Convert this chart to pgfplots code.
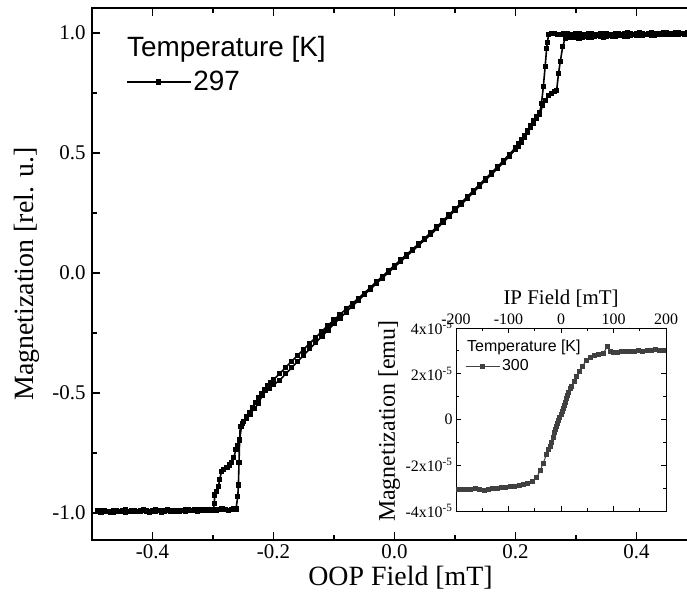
\documentclass[border=0pt]{standalone}
\usepackage{fontspec}
\setmainfont{Liberation Serif}
\setsansfont{Liberation Sans}
\usepackage{pgfplots}
\pgfplotsset{compat=1.18}
\usetikzlibrary{calc}
\definecolor{insetgray}{HTML}{404040}
\begin{document}
\begin{tikzpicture}
\begin{axis}[
  name=main,
  width=605bp, height=532bp, scale only axis,
  xmin=-0.5, xmax=0.5, ymin=-1.1125, ymax=1.104,
  xtick={-0.4,-0.2,0,0.2,0.4}, ytick={-1,-0.5,0,0.5,1},
  minor x tick num=1, minor y tick num=1,
  tick align=inside, major tick length=8bp, minor tick length=5bp,
  xticklabel pos=lower, yticklabel pos=left,
  /pgf/number format/fixed, /pgf/number format/fixed zerofill,
  /pgf/number format/precision=1, /pgf/number format/assume math mode=true,
  tick label style={font=\fontsize{21}{21}\selectfont},
  xticklabel style={yshift=-1bp}, yticklabel style={xshift=-3bp},
  axis line style={line width=1.6bp},
  every tick/.style={black, line width=1.4bp},
  xlabel={OOP Field [mT]}, ylabel={Magnetization [rel. u.]},
  label style={font=\fontsize{28}{28}\selectfont},
  xlabel style={at={(axis description cs:0.51,-0.07)}, anchor=center},
  ylabel style={at={(axis description cs:-0.108,0.5)}, anchor=center},
  legend style={at={(rel axis cs:0.056,0.861)}, anchor=west, draw=none, fill=none,
    inner sep=0pt, outer sep=0pt, font=\sffamily\fontsize{28}{28}\selectfont,
    /tikz/every even column/.style={column sep=5bp}},
  legend image code/.code={\draw[mark repeat=2,mark phase=2,#1] plot coordinates {(0bp,0bp) (32bp,0bp) (64bp,0bp)};},
]
\addplot[black, line width=1.6bp, mark=square*, mark size=1.8bp, mark options={solid}] table {
x y
-0.490 -0.992
-0.485 -0.988
-0.480 -0.990
-0.475 -0.994
-0.470 -0.993
-0.465 -0.988
-0.460 -0.989
-0.455 -0.993
-0.450 -0.991
-0.445 -0.987
-0.440 -0.993
-0.435 -0.990
-0.430 -0.990
-0.425 -0.994
-0.420 -0.992
-0.415 -0.987
-0.410 -0.989
-0.405 -0.993
-0.400 -0.991
-0.395 -0.986
-0.390 -0.988
-0.385 -0.992
-0.380 -0.990
-0.375 -0.987
-0.370 -0.992
-0.365 -0.989
-0.360 -0.988
-0.355 -0.992
-0.350 -0.990
-0.345 -0.985
-0.340 -0.987
-0.335 -0.991
-0.330 -0.989
-0.325 -0.985
-0.320 -0.986
-0.315 -0.990
-0.310 -0.988
-0.305 -0.984
-0.300 -0.985
-0.295 -0.989
-0.290 -0.987
-0.285 -0.983
-0.280 -0.984
-0.275 -0.988
-0.270 -0.986
-0.266 -0.982
-0.262 -0.983
-0.259 -0.930
-0.258 -0.883
-0.257 -0.790
-0.256 -0.696
-0.255 -0.640
-0.251 -0.626
-0.245 -0.605
-0.239 -0.590
-0.232 -0.565
-0.225 -0.545
-0.219 -0.512
-0.213 -0.490
-0.207 -0.480
-0.200 -0.466
-0.190 -0.448
-0.180 -0.420
-0.170 -0.395
-0.160 -0.368
-0.150 -0.342
-0.140 -0.316
-0.130 -0.290
-0.120 -0.264
-0.110 -0.238
-0.100 -0.212
-0.090 -0.188
-0.080 -0.163
-0.070 -0.139
-0.060 -0.115
-0.050 -0.091
-0.040 -0.068
-0.030 -0.044
-0.020 -0.021
-0.010 0.002
0.000 0.025
0.010 0.047
0.020 0.070
0.030 0.092
0.040 0.115
0.050 0.138
0.060 0.160
0.070 0.185
0.080 0.210
0.090 0.235
0.100 0.260
0.110 0.285
0.120 0.310
0.130 0.335
0.140 0.360
0.150 0.385
0.160 0.410
0.170 0.435
0.180 0.460
0.190 0.487
0.200 0.515
0.205 0.528
0.210 0.545
0.215 0.565
0.220 0.585
0.225 0.605
0.230 0.625
0.235 0.642
0.240 0.660
0.245 0.700
0.249 0.720
0.255 0.740
0.260 0.749
0.265 0.756
0.268 0.760
0.271 0.830
0.274 0.880
0.278 0.943
0.282 0.978
0.286 0.983
0.290 0.980
0.295 0.985
0.300 0.982
0.305 0.978
0.310 0.980
0.315 0.986
0.320 0.983
0.325 0.981
0.330 0.985
0.335 0.988
0.340 0.984
0.345 0.983
0.350 0.986
0.355 0.989
0.360 0.985
0.365 0.984
0.370 0.988
0.375 0.990
0.380 0.987
0.385 0.986
0.390 0.989
0.395 0.992
0.400 0.990
0.405 0.988
0.410 0.989
0.415 0.993
0.420 0.992
0.425 0.990
0.430 0.991
0.435 0.995
0.440 0.993
0.445 0.992
0.450 0.994
0.455 0.997
0.460 0.993
0.465 0.994
0.470 0.995
0.475 0.998
0.480 0.996
0.485 0.994
0.490 0.995
0.490 1.000
0.485 1.003
0.480 0.999
0.475 0.997
0.470 1.001
0.465 1.003
0.460 0.998
0.455 0.996
0.450 1.000
0.445 1.002
0.440 0.998
0.435 0.996
0.430 0.999
0.425 1.001
0.420 0.997
0.415 0.995
0.410 0.999
0.405 1.001
0.400 0.998
0.395 0.994
0.390 0.996
0.385 1.000
0.380 0.998
0.375 0.994
0.370 0.997
0.365 0.999
0.360 0.995
0.355 0.993
0.350 0.997
0.345 0.999
0.340 0.996
0.335 0.993
0.330 0.994
0.325 0.998
0.320 0.996
0.315 0.993
0.310 0.995
0.305 0.998
0.300 0.996
0.295 0.993
0.290 0.994
0.285 0.998
0.280 0.996
0.275 0.993
0.270 0.995
0.265 0.998
0.260 0.997
0.255 0.995
0.2525 0.960
0.2515 0.936
0.249 0.860
0.246 0.776
0.243 0.707
0.240 0.668
0.235 0.650
0.230 0.633
0.225 0.614
0.220 0.594
0.215 0.574
0.210 0.554
0.205 0.537
0.200 0.522
0.190 0.495
0.180 0.468
0.170 0.442
0.160 0.417
0.150 0.392
0.140 0.367
0.130 0.342
0.120 0.317
0.110 0.292
0.100 0.267
0.090 0.242
0.080 0.217
0.070 0.192
0.060 0.168
0.050 0.145
0.040 0.122
0.030 0.099
0.020 0.077
0.010 0.054
0.000 0.032
-0.010 0.009
-0.020 -0.014
-0.030 -0.037
-0.040 -0.061
-0.050 -0.084
-0.060 -0.106
-0.070 -0.128
-0.080 -0.150
-0.090 -0.173
-0.100 -0.195
-0.110 -0.219
-0.120 -0.243
-0.130 -0.268
-0.140 -0.293
-0.150 -0.318
-0.160 -0.343
-0.170 -0.368
-0.180 -0.394
-0.190 -0.420
-0.200 -0.445
-0.205 -0.458
-0.210 -0.471
-0.215 -0.486
-0.220 -0.502
-0.225 -0.521
-0.230 -0.541
-0.235 -0.560
-0.240 -0.580
-0.245 -0.600
-0.250 -0.620
-0.253 -0.640
-0.256 -0.696
-0.259 -0.720
-0.262 -0.737
-0.266 -0.770
-0.269 -0.790
-0.273 -0.800
-0.277 -0.810
-0.282 -0.818
-0.286 -0.828
-0.289 -0.860
-0.291 -0.890
-0.294 -0.910
-0.297 -0.925
-0.298 -0.960
-0.299 -0.985
-0.305 -0.990
-0.310 -0.988
-0.315 -0.986
-0.320 -0.990
-0.325 -0.992
-0.330 -0.987
-0.335 -0.989
-0.340 -0.991
-0.345 -0.994
-0.350 -0.989
-0.355 -0.990
-0.360 -0.992
-0.365 -0.995
-0.370 -0.990
-0.375 -0.991
-0.380 -0.993
-0.385 -0.996
-0.390 -0.991
-0.395 -0.992
-0.400 -0.994
-0.405 -0.997
-0.410 -0.992
-0.415 -0.991
-0.420 -0.990
-0.425 -0.995
-0.430 -0.993
-0.435 -0.992
-0.440 -0.995
-0.445 -0.997
-0.450 -0.992
-0.455 -0.993
-0.460 -0.994
-0.465 -0.997
-0.470 -0.996
-0.475 -0.993
-0.480 -0.993
-0.485 -0.996
-0.490 -0.995
};
\addlegendentry{297}
\node[anchor=base west, font=\sffamily\fontsize{28}{28}\selectfont, inner sep=0pt] at (rel axis cs:0.0579,0.908) {Temperature [K]};
\coordinate (bl) at (rel axis cs:0,0);
\coordinate (tr) at (rel axis cs:1,1);
\coordinate (ins) at (rel axis cs:0.6017,0.0545);
\end{axis}
\begin{axis}[
  at={(ins)}, anchor=south west,
  width=210bp, height=183bp, scale only axis,
  axis background/.style={fill=white},
  xmin=-200, xmax=200, ymin=-4e-5, ymax=4e-5,
  xtick={-200,-100,0,100,200}, minor x tick num=1,
  ytick={-4e-5,-2e-5,0,2e-5,4e-5}, minor y tick num=1,
  yticklabels={-4x10\textsuperscript{-5},-2x10\textsuperscript{-5},0,2x10\textsuperscript{-5},4x10\textsuperscript{-5}},
  scaled y ticks=false,
  xticklabel pos=upper, yticklabel pos=left,
  /pgf/number format/assume math mode=true,
  tick align=inside, major tick length=5bp, minor tick length=3bp,
  tick label style={font=\fontsize{16}{16}\selectfont},
  axis line style={line width=1bp},
  every tick/.style={black, line width=1bp},
  xlabel={IP Field [mT]}, ylabel={Magnetization [emu]},
  xlabel style={font=\fontsize{21}{21}\selectfont},
  ylabel style={font=\fontsize{24}{24}\selectfont, at={(axis description cs:-0.318,0.49)}, anchor=center},
  legend style={at={(rel axis cs:0.043,0.792)}, anchor=west, draw=none, fill=none,
    inner sep=0pt, outer sep=0pt, font=\sffamily\fontsize{16}{16}\selectfont,
    /tikz/every even column/.style={column sep=3bp}},
  legend image code/.code={\draw[mark repeat=2,mark phase=2,#1] plot coordinates {(0bp,0bp) (17bp,0bp) (34bp,0bp)};},
]
\addplot[insetgray, line width=1bp, mark=square*, mark size=2bp, mark options={solid}] table {
x y
-195 -3.08e-5
-188 -3.07e-5
-180 -3.05e-5
-172 -3.08e-5
-163 -3.03e-5
-155 -3.06e-5
-146 -3.09e-5
-138 -3.04e-5
-130 -3.02e-5
-121 -3.00e-5
-113 -2.97e-5
-105 -2.99e-5
-96 -2.95e-5
-88 -2.93e-5
-80 -2.88e-5
-72 -2.85e-5
-64 -2.80e-5
-55 -2.70e-5
-47 -2.55e-5
-40 -2.25e-5
-34 -1.91e-5
-28 -1.55e-5
-24 -1.30e-5
-21 -1.19e-5
-18 -1.00e-5
-15 -0.80e-5
-12 -0.58e-5
-10 -0.45e-5
-8 -0.31e-5
-6 -0.18e-5
-4 -0.05e-5
-2 0.10e-5
0 0.22e-5
2 0.35e-5
4 0.50e-5
6 0.62e-5
8 0.75e-5
10 0.90e-5
12 1.05e-5
15 1.20e-5
18 1.35e-5
20 1.43e-5
25 1.65e-5
30 1.87e-5
35 2.10e-5
40 2.30e-5
48 2.58e-5
56 2.70e-5
64 2.78e-5
72 2.84e-5
80 2.88e-5
88 3.18e-5
94 2.98e-5
100 2.93e-5
108 2.95e-5
116 2.97e-5
124 2.96e-5
132 2.97e-5
140 2.99e-5
148 3.00e-5
156 2.99e-5
164 3.01e-5
172 3.03e-5
180 3.06e-5
188 3.02e-5
196 3.03e-5
};
\addlegendentry{300}
\node[anchor=base west, font=\sffamily\fontsize{16}{16}\selectfont, inner sep=0pt] at (rel axis cs:0.052,0.869) {Temperature [K]};
\end{axis}
\pgfresetboundingbox
\path[use as bounding box] ($(bl)+(-92bp,-67bp)$) rectangle ($(tr)+(-10bp,8bp)$);
\end{tikzpicture}
\end{document}
